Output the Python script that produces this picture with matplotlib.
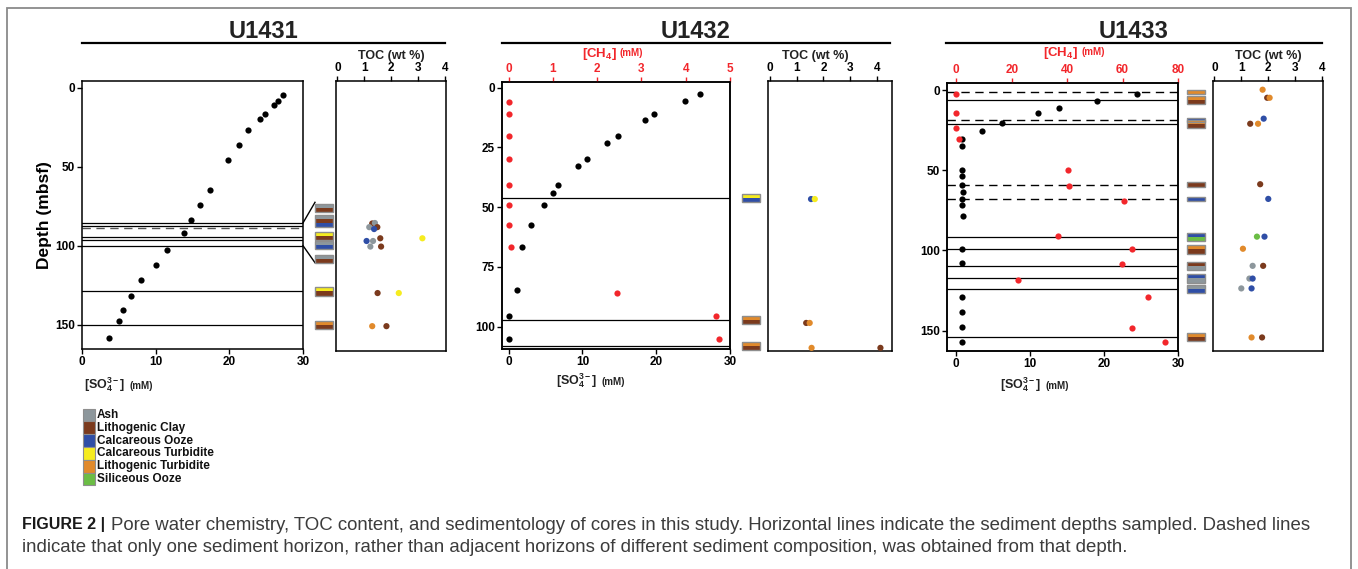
import matplotlib
matplotlib.use("Agg")
import matplotlib.pyplot as plt
from matplotlib.patches import Rectangle
from matplotlib.lines import Line2D

plt.rcParams['font.family'] = ['Liberation Sans', 'DejaVu Sans']
plt.rcParams['font.weight'] = 'bold'
plt.rcParams['mathtext.fontset'] = 'custom'
plt.rcParams['mathtext.rm'] = 'Liberation Sans:bold'
plt.rcParams['mathtext.bf'] = 'Liberation Sans:bold'
plt.rcParams['mathtext.it'] = 'Liberation Sans:bold'
plt.rcParams['mathtext.default'] = 'bf'

# ------------------------------------------------------------------ data
site_names = ["U1431", "U1432", "U1433"]

litho_types = ["Ash", "Lithogenic Clay", "Calcareous Ooze",
               "Calcareous Turbidite", "Lithogenic Turbidite", "Siliceous Ooze"]
litho_colors = ["#8d979c", "#7b3a1d", "#2f4ea6", "#f6ec1f", "#e18a2b", "#6bbd45"]

# U1431
so4_u1431 = [27.25, 26.66, 26.1, 24.86, 24.18, 22.56, 21.38, 19.76, 17.41, 16.01,
             14.84, 13.81, 11.55, 10.02, 8.07, 6.67, 5.59, 5.00, 3.70]
so4_depth_u1431 = [4.8, 8.2, 10.9, 16.9, 20.0, 26.8, 36.3, 45.8, 64.8, 74.2,
                   83.7, 91.7, 102.7, 112.2, 121.7, 131.6, 140.7, 147.7, 158.2]
solid_u1431 = [85.6, 87.4, 94.3, 96.3, 100.0, 129.0, 150.0]
dashed_u1431 = [88.6]
litho_u1431 = [["Ash", "Lithogenic Clay"],
               ["Ash", "Lithogenic Clay", "Calcareous Ooze"],
               ["Calcareous Turbidite", "Lithogenic Clay"],
               ["Ash", "Calcareous Ooze"],
               ["Ash", "Lithogenic Clay"],
               ["Calcareous Turbidite", "Lithogenic Clay"],
               ["Lithogenic Turbidite", "Lithogenic Clay"]]
toc_u1431 = [1.30, 1.40, 1.49, 1.19, 1.37, 1.60, 3.17, 1.09, 1.33, 1.23, 1.63,
             1.50, 2.29, 1.30, 1.83]
toc_depth_u1431 = [85.3, 85.0, 87.6, 87.6, 88.8, 94.6, 94.6, 96.3, 96.3, 99.8, 99.8,
                   129.0, 129.0, 149.8, 149.8]
toc_type_u1431 = ["Lithogenic Clay", "Ash", "Lithogenic Clay", "Ash", "Calcareous Ooze",
                  "Lithogenic Clay", "Calcareous Turbidite", "Calcareous Ooze", "Ash",
                  "Ash", "Lithogenic Clay", "Lithogenic Clay", "Calcareous Turbidite",
                  "Lithogenic Turbidite", "Lithogenic Clay"]

# U1432
so4_u1432 = [25.88, 23.85, 19.73, 18.5, 14.8, 13.3, 10.63, 9.41, 6.70, 5.97,
             4.80, 2.99, 1.81, 1.18, 0.0, 0.0]
so4_depth_u1432 = [2.9, 5.8, 10.9, 13.4, 20.3, 23.4, 29.8, 32.9, 40.9, 44.0,
                   49.0, 57.5, 66.6, 84.5, 95.5, 105.0]
ch4_u1432 = [0.0, 0.0, 0.0, 0.0, 0.0, 0.0, 0.0, 0.05, 2.44, 4.68, 4.75]
ch4_depth_u1432 = [6.0, 10.9, 20.3, 29.9, 40.9, 49.0, 57.5, 66.6, 86.1, 95.5, 105.0]
solid_u1432 = [46.2, 97.3, 108.2]
dashed_u1432 = []
litho_u1432 = [["Calcareous Turbidite", "Calcareous Ooze"],
               ["Lithogenic Turbidite", "Lithogenic Clay"],
               ["Lithogenic Turbidite", "Lithogenic Clay"]]
toc_u1432 = [1.54, 1.68, 1.36, 1.49, 1.56, 4.12]
toc_depth_u1432 = [46.5, 46.5, 97.7, 97.7, 108.0, 108.0]
toc_type_u1432 = ["Calcareous Ooze", "Calcareous Turbidite", "Lithogenic Clay",
                  "Lithogenic Turbidite", "Lithogenic Turbidite", "Lithogenic Clay"]

# U1433
so4_u1433 = [24.5, 19.0, 13.9, 11.0, 6.22, 3.52, 0.77, 0.77, 0.77, 0.77, 0.77,
             0.95, 0.77, 0.77, 0.95, 0.77, 0.77, 0.77, 0.77, 0.77, 0.77]
so4_depth_u1433 = [2.1, 6.7, 11.0, 13.9, 20.6, 25.2, 30.1, 34.7, 49.5, 53.8, 58.8,
                   63.4, 68.0, 71.7, 78.2, 99.0, 108.1, 129.3, 138.5, 148.0, 157.4]
ch4_u1433 = [0.0, 0.0, 0.0, 1.1, 40.3, 40.8, 60.6, 36.8, 63.5, 59.9, 22.3, 69.3,
             63.3, 75.2]
ch4_depth_u1433 = [2.1, 14.1, 23.7, 30.1, 49.5, 59.5, 68.8, 90.9, 99.0, 108.7,
                   118.3, 129.3, 148.4, 157.4]
solid_u1433 = [6.0, 21.2, 91.5, 99.4, 109.6, 117.5, 124.1, 154.3]
dashed_u1433 = [1.2, 18.5, 58.8, 68.0]
litho_depth_u1433 = [1.2, 6.0, 18.5, 21.2, 58.8, 68.0, 91.5, 99.4, 109.6, 117.5, 124.1, 154.3]
litho_u1433 = [["Lithogenic Turbidite"],
               ["Lithogenic Turbidite", "Lithogenic Clay"],
               ["Calcareous Ooze"],
               ["Lithogenic Turbidite", "Lithogenic Clay"],
               ["Lithogenic Clay"],
               ["Calcareous Ooze"],
               ["Calcareous Ooze", "Siliceous Ooze"],
               ["Lithogenic Turbidite", "Lithogenic Clay"],
               ["Lithogenic Clay", "Ash"],
               ["Calcareous Ooze", "Ash"],
               ["Ash", "Calcareous Ooze"],
               ["Lithogenic Turbidite", "Lithogenic Clay"]]
toc_u1433 = [1.79, 1.96, 2.05, 1.83, 1.33, 1.62, 1.70, 2.00, 1.58, 1.86, 1.06,
             1.42, 1.81, 1.30, 1.42, 1.00, 1.38, 1.38, 1.77]
toc_depth_u1433 = [0.8, 5.8, 5.8, 18.75, 21.9, 21.9, 59.4, 68.5, 91.9, 91.9, 99.4,
                   110.0, 110.0, 117.9, 117.9, 124.0, 124.0, 154.4, 154.4]
toc_type_u1433 = ["Lithogenic Turbidite", "Lithogenic Clay", "Lithogenic Turbidite",
                  "Calcareous Ooze", "Lithogenic Clay", "Lithogenic Turbidite",
                  "Lithogenic Clay", "Calcareous Ooze", "Siliceous Ooze",
                  "Calcareous Ooze", "Lithogenic Turbidite", "Ash", "Lithogenic Clay",
                  "Ash", "Calcareous Ooze", "Ash", "Calcareous Ooze",
                  "Lithogenic Turbidite", "Lithogenic Clay"]

caption_bold = "FIGURE 2 |"
caption_line1 = ("Pore water chemistry, TOC content, and sedimentology of cores in this study. "
                 "Horizontal lines indicate the sediment depths sampled. Dashed lines")
caption_line2 = ("indicate that only one sediment horizon, rather than adjacent horizons of "
                 "different sediment composition, was obtained from that depth.")

# ------------------------------------------------------------------ layout
W, H = 1358, 569
fig = plt.figure(figsize=(W / 100, H / 100), dpi=100)
cmap = dict(zip(litho_types, litho_colors))
RED = "#f2262b"


def px_axes(l, t, r, b, **kw):
    return fig.add_axes([l / W, 1 - b / H, (r - l) / W, (b - t) / H], **kw)


def style(ax):
    for s in ax.spines.values():
        s.set_linewidth(1.1)
    ax.tick_params(direction='out', length=3.5, width=1, labelsize=8.5, pad=1.5)


def main_axes(box, xlim, ylim, yticks, solid, dashed, dash_color='black'):
    ax = px_axes(*box)
    style(ax)
    ax.set_xlim(*xlim)
    ax.set_ylim(*ylim)
    ax.set_xticks([0, 10, 20, 30])
    ax.set_yticks(yticks)
    for d in solid:
        ax.axhline(d, color='black', lw=0.9, zorder=1)
    for d in dashed:
        ax.axhline(d, color=dash_color, lw=1.0, ls=(0, (6, 4)), zorder=1)
    return ax


def toc_axes(box, xlim, ylim):
    ax = px_axes(*box)
    style(ax)
    ax.set_xlim(*xlim)
    ax.set_ylim(*ylim)
    ax.set_yticks([])
    ax.set_xticks([0, 1, 2, 3, 4])
    ax.xaxis.tick_top()
    return ax


def scatter_toc(ax, vals, depths, types):
    ax.scatter(vals, depths, s=20, c=[cmap[t] for t in types], linewidths=0, zorder=3)


# --- U1431
ylim1 = (165.4, -4.2)
ax1 = main_axes((82, 81, 303, 349), (0, 30), ylim1, [0, 50, 100, 150],
                solid_u1431, dashed_u1431, dash_color='#555555')
ax1.scatter(so4_u1431, so4_depth_u1431, s=20, c='black', linewidths=0, zorder=3)
ax1.set_ylabel("Depth (mbsf)", fontsize=12.5, fontweight='bold', labelpad=2)
t1 = toc_axes((336, 81, 446, 351), (-0.05, 4.05), ylim1)
scatter_toc(t1, toc_u1431, toc_depth_u1431, toc_type_u1431)

# --- U1432
ylim2 = (109.3, -2.3)
ax2 = main_axes((502, 82, 730, 349), (-0.9, 30), ylim2, [0, 25, 50, 75, 100],
                solid_u1432, dashed_u1432)
ax2.scatter(so4_u1432, so4_depth_u1432, s=20, c='black', linewidths=0, zorder=3)
ax2c = ax2.twiny()
ax2c.set_xlim(-0.15, 5)
ax2c.set_xticks([0, 1, 2, 3, 4, 5])
style(ax2c)
ax2c.tick_params(axis='x', colors=RED, labelcolor=RED)
ax2c.spines['top'].set_color('black')
ax2c.scatter(ch4_u1432, ch4_depth_u1432, s=20, c=RED, linewidths=0, zorder=3)
t2 = toc_axes((768, 81, 892, 351), (-0.06, 4.55), ylim2)
scatter_toc(t2, toc_u1432, toc_depth_u1432, toc_type_u1432)

# --- U1433
ylim3 = (162.8, -4.6)
ax3 = main_axes((947, 83, 1178, 351), (-1.26, 30), ylim3, [0, 50, 100, 150],
                solid_u1433, dashed_u1433)
ax3.scatter(so4_u1433, so4_depth_u1433, s=20, c='black', linewidths=0, zorder=3)
ax3c = ax3.twiny()
ax3c.set_xlim(-3.36, 80)
ax3c.set_xticks([0, 20, 40, 60, 80])
style(ax3c)
ax3c.tick_params(axis='x', colors=RED, labelcolor=RED)
ax3c.spines['top'].set_color('black')
ax3c.scatter(ch4_u1433, ch4_depth_u1433, s=20, c=RED, linewidths=0, zorder=3)
t3 = toc_axes((1213, 81, 1323, 351), (-0.05, 4.03), ylim3)
scatter_toc(t3, toc_u1433, toc_depth_u1433, toc_type_u1433)

# ------------------------------------------------------------------ overlay
ov = fig.add_axes([0, 0, 1, 1], zorder=10)
ov.set_xlim(0, W)
ov.set_ylim(0, H)
ov.axis('off')
ov.patch.set_alpha(0)
renderer = fig.canvas.get_renderer()


def yd(ax, depth):
    return ax.transData.transform((0, depth))[1]


def ytop(y):
    return H - y


def draw_box(xl, yc, kinds, stripe=4.1, width=18):
    total = stripe * len(kinds)
    top = yc + total / 2
    for i, k in enumerate(kinds):
        ov.add_patch(Rectangle((xl, top - (i + 1) * stripe), width, stripe,
                               fc=cmap[k], ec='none', zorder=2))
    ov.add_patch(Rectangle((xl, top - total), width, total, fill=False,
                           ec='#8e8e8e', lw=1.0, zorder=3))


# U1431 column: first five boxes are spread out in an enlarged callout
callout_depth_u1431 = [76.3, 84.2, 93.7, 99.6, 108.5]
box_depth_u1431 = callout_depth_u1431 + solid_u1431[5:]
for d, kinds in zip(box_depth_u1431, litho_u1431):
    draw_box(315, yd(ax1, d), kinds)
ov.add_line(Line2D([303, 315], [yd(ax1, 85.6), ytop(202.3)], color='black', lw=1.0))
ov.add_line(Line2D([303, 315], [yd(ax1, 100.0), ytop(262.7)], color='black', lw=1.0))

for d, kinds in zip(solid_u1432, litho_u1432):
    draw_box(742, yd(ax2, d), kinds)
for d, kinds in zip(litho_depth_u1433, litho_u1433):
    draw_box(1187, yd(ax3, d), kinds)

# titles and underlines
for name, x0, x1 in zip(site_names, [82, 502, 946], [445, 890, 1322]):
    ov.add_line(Line2D([x0, x1], [ytop(43), ytop(43)], color='black', lw=1.6))
    ov.text((x0 + x1) / 2, ytop(31), name, ha='center', va='center',
            fontsize=17, fontweight='bold', color='#222222')

# TOC labels
for xc in [391, 815, 1268]:
    ov.text(xc, ytop(56), "TOC (wt %)", ha='center', va='center', fontsize=9,
            fontweight='bold', color='#222222')

# CH4 labels
for xs, yy in [(617, 54), (1078, 53)]:
    ov.text(xs, ytop(yy), r"[CH$_4$]", ha='right', va='center', fontsize=9.5,
            color=RED)
    ov.text(xs + 3, ytop(yy - 1), "(mM)", ha='left', va='center', fontsize=7,
            color=RED)

# SO4 labels
for xs, yy in [(84, 385), (556, 381), (1000, 385)]:
    tt = ov.text(xs, ytop(yy), r"[SO$_4^{3-}$]", ha='left', va='center',
                 fontsize=9, color='#222222')
    xe = tt.get_window_extent(renderer).x1
    ov.text(xe + 4, ytop(yy + 1), "(mM)", ha='left', va='center', fontsize=7,
            color='#222222')

# legend
for i, (name, col) in enumerate(zip(litho_types, litho_colors)):
    yc = 415 + i * 12.8
    ov.add_patch(Rectangle((83, ytop(yc + 6.4)), 12, 12.8, fc=col, ec='#8e8e8e',
                           lw=0.8))
    ov.text(97, ytop(yc), name, ha='left', va='center', fontsize=8.5,
            fontweight='bold', color='#111111')

# frame
ov.add_patch(Rectangle((7, ytop(575)), 1344, 567, fill=False, ec='#8a8a8a', lw=1.3))

# caption
tb = ov.text(22, ytop(525), caption_bold, ha='left', va='center', fontsize=11.5,
             fontweight='bold', color='#1a1a1a')
bb = tb.get_window_extent(renderer)
x_after = bb.x1 + 6
t_l1 = ov.text(x_after, ytop(525), caption_line1, ha='left', va='center',
               fontsize=11.5, fontweight='normal', color='#3c3c3c')
w_l1 = t_l1.get_window_extent(renderer).width
fs = 11.5 * (1318 - x_after) / w_l1
t_l1.set_fontsize(fs)
ov.text(22, ytop(547), caption_line2, ha='left', va='center', fontsize=fs,
        fontweight='normal', color='#3c3c3c')

fig.savefig("out.png", dpi=100)
